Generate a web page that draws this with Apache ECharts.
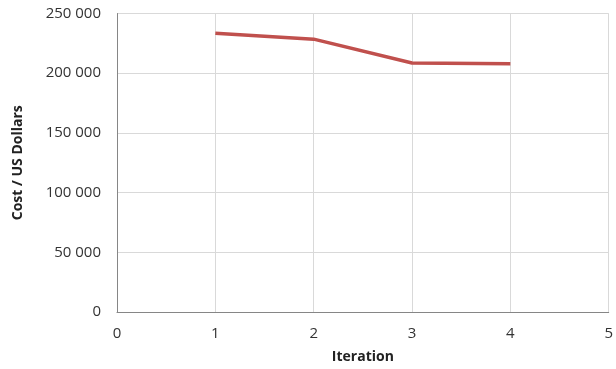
<!DOCTYPE html>
<html><head><meta charset="utf-8">
<script src="https://cdn.jsdelivr.net/npm/echarts@6/dist/echarts.min.js"></script>
<style>html,body{margin:0;padding:0;background:#fff}#c{width:616px;height:369px}</style>
</head><body><div id="c"></div>
<script>
const iterations = [1, 2, 3, 4];
const costs = [233500, 228500, 208500, 208000];
const xTicks = [0, 1, 2, 3, 4, 5];
const yTicks = [0, 50000, 100000, 150000, 200000, 250000];

const fmt = v => String(v).replace(/\B(?=(\d{3})+(?!\d))/g, ' ');
const chart = echarts.init(document.getElementById('c'), null, {renderer: 'canvas'});
chart.setOption({
  animation: false,
  grid: {left: 117, right: 4, top: 13.5, bottom: 57, containLabel: false},
  xAxis: {
    type: 'value', min: 0, max: 5, interval: 1,
    name: 'Iteration', nameLocation: 'middle', nameGap: 38,
    nameTextStyle: {fontFamily: 'Open Sans', fontWeight: 'bold', fontSize: 14, color: '#222'},
    axisLine: {show: true, lineStyle: {color: '#868686', width: 1}},
    axisTick: {show: false},
    axisLabel: {fontFamily: 'Open Sans', fontSize: 15, color: '#333', margin: 14},
    splitLine: {show: true, lineStyle: {color: '#d9d9d9', width: 1}}
  },
  yAxis: {
    type: 'value', min: 0, max: 250000, interval: 50000,
    name: 'Cost / US Dollars', nameLocation: 'middle', nameGap: 92, nameRotate: 90,
    nameTextStyle: {fontFamily: 'Open Sans', fontWeight: 'bold', fontSize: 14, color: '#222'},
    axisLine: {show: true, lineStyle: {color: '#868686', width: 1}},
    axisTick: {show: false},
    axisLabel: {fontFamily: 'Open Sans', fontSize: 15, color: '#333', margin: 16, formatter: fmt},
    splitLine: {show: true, lineStyle: {color: '#d9d9d9', width: 1}}
  },
  series: [{
    type: 'line',
    data: iterations.map((x, i) => [x, costs[i]]),
    showSymbol: false, symbol: 'none',
    lineStyle: {color: '#c0504d', width: 3.5},
    itemStyle: {color: '#c0504d'}
  }]
});
</script></body></html>
